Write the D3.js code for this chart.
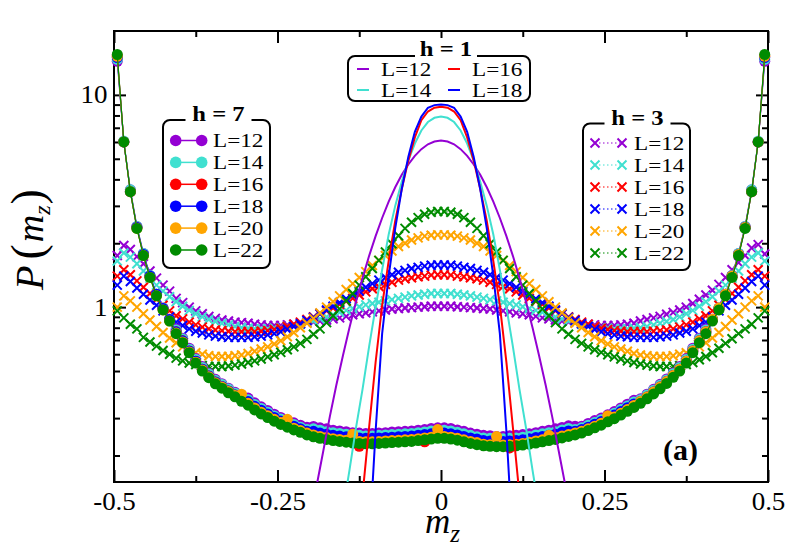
<!DOCTYPE html>
<html><head><meta charset="utf-8">
<script src="https://cdn.jsdelivr.net/npm/d3@7"></script>
<style>
body{margin:0;background:#fff}
svg{display:block}
text{font-family:"Liberation Serif","Times New Roman",serif;fill:#000}
</style>
</head><body>
<svg id="c" width="794" height="548"></svg>
<script>
// ---------------- DATA ----------------
const seriesLabels = ["L=12","L=14","L=16","L=18","L=20","L=22"];
const seriesColors = ["#9400d3","#40e0d0","#ff0000","#0000ff","#ffa500","#008b00"];
const xTickValues = [-0.5,-0.25,0,0.25,0.5];
const xTickLabels = ["-0.5","-0.25","0","0.25","0.5"];
const xMinorTicks = [-0.375,-0.125,0.125,0.375];
const yTickValues = [1,10];
const yTickLabels = ["1","10"];
const yMinorTicks = [0.2,0.3,0.4,0.5,0.6,0.7,0.8,0.9,2,3,4,5,6,7,8,9];

// bin centres of m_z (h=3 and h=7 histograms)
const mz = [-0.495,-0.485,-0.475,-0.465,-0.455,-0.445,-0.435,-0.425,-0.415,-0.405,
-0.395,-0.385,-0.375,-0.365,-0.355,-0.345,-0.335,-0.325,-0.315,-0.305,
-0.295,-0.285,-0.275,-0.265,-0.255,-0.245,-0.235,-0.225,-0.215,-0.205,
-0.195,-0.185,-0.175,-0.165,-0.155,-0.145,-0.135,-0.125,-0.115,-0.105,
-0.095,-0.085,-0.075,-0.065,-0.055,-0.045,-0.035,-0.025,-0.015,-0.005,
0.005,0.015,0.025,0.035,0.045,0.055,0.065,0.075,0.085,0.095,
0.105,0.115,0.125,0.135,0.145,0.155,0.165,0.175,0.185,0.195,
0.205,0.215,0.225,0.235,0.245,0.255,0.265,0.275,0.285,0.295,
0.305,0.315,0.325,0.335,0.345,0.355,0.365,0.375,0.385,0.395,
0.405,0.415,0.425,0.435,0.445,0.455,0.465,0.475,0.485,0.495];

// m_z values of the h=1 curves
const mzH1 = [-0.21,-0.2,-0.19,-0.18,-0.17,-0.16,-0.15,-0.14,-0.13,-0.12,-0.11,
-0.1,-0.09,-0.08,-0.07,-0.06,-0.05,-0.04,-0.03,-0.02,-0.01,0,
0.01,0.02,0.03,0.04,0.05,0.06,0.07,0.08,0.09,0.1,
0.11,0.12,0.13,0.14,0.15,0.16,0.17,0.18,0.19,0.2,0.21];

// h = 1
const h1L12 = [0.063,0.097,0.145,0.21,0.305,0.43,0.59,0.8,1.06,1.37,1.74,2.16,2.63,3.14,3.67,4.2,4.7,5.16,5.55,5.85,6.03,6.1,6.03,5.85,5.55,5.16,4.7,4.2,3.67,3.14,2.63,2.16,1.74,1.37,1.06,0.8,0.59,0.43,0.305,0.21,0.145,0.097,0.063];
const h1L14 = [0.008,0.013,0.02,0.03,0.045,0.07,0.11,0.17,0.27,0.41,0.65,1.0,1.5,2.2,3.0,3.9,4.9,5.9,6.8,7.45,7.8,7.9,7.8,7.45,6.8,5.9,4.9,3.9,3.0,2.2,1.5,1.0,0.65,0.41,0.27,0.17,0.11,0.07,0.045,0.03,0.02,0.013,0.008];
const h1L16 = [0.001,0.001,0.001,0.002,0.004,0.008,0.015,0.03,0.06,0.13,0.27,0.55,1.02,1.65,2.55,3.6,4.9,6.3,7.6,8.35,8.7,8.8,8.7,8.35,7.6,6.3,4.9,3.6,2.55,1.65,1.02,0.55,0.27,0.13,0.06,0.03,0.015,0.008,0.004,0.002,0.001,0.001,0.001];
const h1L18 = [0.001,0.001,0.001,0.001,0.001,0.001,0.001,0.002,0.006,0.02,0.075,0.26,0.75,1.4,2.35,3.6,5.1,6.7,7.9,8.7,8.95,9.0,8.95,8.7,7.9,6.7,5.1,3.6,2.35,1.4,0.75,0.26,0.075,0.02,0.006,0.002,0.001,0.001,0.001,0.001,0.001,0.001,0.001];

// h = 3
const h3L12 = [1.75,1.95,1.87,1.73,1.6,1.48,1.37,1.27,1.19,1.1,
1.05,1.0,0.96,0.93,0.905,0.885,0.87,0.86,0.85,0.845,
0.84,0.83,0.825,0.82,0.82,0.82,0.825,0.83,0.835,0.845,
0.85,0.86,0.87,0.88,0.89,0.905,0.92,0.93,0.94,0.95,
0.96,0.97,0.98,0.985,0.99,0.995,1.0,1.005,1.01,1.01,
1.01,1.01,1.005,1.0,0.995,0.99,0.985,0.98,0.97,0.96,
0.95,0.94,0.93,0.92,0.905,0.89,0.88,0.87,0.86,0.85,
0.845,0.835,0.83,0.825,0.82,0.82,0.82,0.825,0.83,0.84,
0.86,0.875,0.89,0.905,0.925,0.945,0.97,1.0,1.04,1.09,
1.14,1.2,1.28,1.38,1.5,1.62,1.75,1.9,1.97,1.78];
const h3L14 = [1.65,1.8,1.72,1.6,1.48,1.37,1.27,1.19,1.12,1.06,
1.01,0.965,0.93,0.9,0.875,0.855,0.84,0.825,0.81,0.8,
0.795,0.79,0.79,0.79,0.795,0.8,0.81,0.82,0.83,0.845,
0.86,0.88,0.9,0.92,0.945,0.965,0.985,1.005,1.025,1.04,
1.055,1.07,1.085,1.1,1.115,1.13,1.14,1.15,1.16,1.16,
1.16,1.16,1.15,1.14,1.13,1.115,1.1,1.085,1.07,1.055,
1.04,1.025,1.005,0.985,0.965,0.945,0.92,0.9,0.88,0.86,
0.845,0.83,0.82,0.81,0.8,0.795,0.79,0.79,0.79,0.795,
0.8,0.81,0.825,0.84,0.855,0.875,0.9,0.93,0.965,1.01,
1.06,1.12,1.19,1.27,1.37,1.48,1.6,1.72,1.8,1.65];
const h3L16 = [1.4,1.5,1.42,1.33,1.24,1.16,1.09,1.02,0.96,0.91,
0.88,0.85,0.825,0.805,0.79,0.78,0.775,0.77,0.765,0.765,
0.765,0.765,0.77,0.775,0.785,0.795,0.81,0.83,0.85,0.875,
0.9,0.93,0.96,0.99,1.03,1.065,1.1,1.14,1.18,1.22,
1.25,1.28,1.31,1.34,1.36,1.375,1.39,1.4,1.415,1.42,
1.42,1.415,1.4,1.39,1.375,1.36,1.34,1.31,1.28,1.25,
1.22,1.18,1.14,1.1,1.065,1.03,0.99,0.96,0.93,0.9,
0.875,0.85,0.83,0.81,0.795,0.785,0.775,0.77,0.765,0.765,
0.765,0.765,0.77,0.775,0.78,0.79,0.805,0.825,0.85,0.88,
0.91,0.96,1.02,1.09,1.16,1.24,1.33,1.42,1.5,1.4];
const h3L18 = [1.27,1.4,1.32,1.23,1.15,1.08,1.02,0.96,0.9,0.85,
0.82,0.79,0.77,0.755,0.74,0.73,0.725,0.72,0.72,0.72,
0.72,0.725,0.73,0.74,0.75,0.765,0.785,0.81,0.835,0.865,
0.895,0.93,0.97,1.01,1.05,1.095,1.14,1.19,1.24,1.29,
1.34,1.38,1.42,1.46,1.49,1.52,1.54,1.56,1.575,1.58,
1.58,1.575,1.56,1.54,1.52,1.49,1.46,1.42,1.38,1.34,
1.29,1.24,1.19,1.14,1.095,1.05,1.01,0.97,0.93,0.895,
0.865,0.835,0.81,0.785,0.765,0.75,0.74,0.73,0.725,0.72,
0.72,0.72,0.72,0.725,0.73,0.74,0.755,0.77,0.79,0.82,
0.85,0.9,0.96,1.02,1.08,1.15,1.23,1.32,1.4,1.27];
const h3L20 = [1.0,1.13,1.07,1.0,0.93,0.87,0.81,0.76,0.715,0.68,
0.65,0.625,0.61,0.6,0.59,0.585,0.585,0.585,0.59,0.595,
0.605,0.62,0.635,0.65,0.67,0.695,0.725,0.76,0.8,0.84,
0.885,0.94,1.0,1.06,1.13,1.21,1.29,1.38,1.47,1.57,
1.66,1.75,1.84,1.93,2.0,2.07,2.12,2.16,2.18,2.19,
2.19,2.18,2.16,2.12,2.07,2.0,1.93,1.84,1.75,1.66,
1.57,1.47,1.38,1.29,1.21,1.13,1.06,1.0,0.94,0.885,
0.84,0.8,0.76,0.725,0.695,0.67,0.65,0.635,0.62,0.605,
0.595,0.59,0.585,0.585,0.585,0.59,0.6,0.61,0.625,0.65,
0.68,0.715,0.76,0.81,0.87,0.93,1.0,1.07,1.13,1.0];
const h3L22 = [0.96,0.89,0.83,0.79,0.72,0.685,0.655,0.625,0.6,0.575,
0.558,0.545,0.537,0.53,0.526,0.525,0.525,0.528,0.533,0.54,
0.548,0.558,0.57,0.583,0.597,0.612,0.63,0.65,0.675,0.705,
0.745,0.79,0.845,0.91,0.98,1.07,1.16,1.27,1.39,1.52,
1.66,1.82,1.99,2.17,2.35,2.51,2.64,2.74,2.8,2.82,
2.82,2.8,2.74,2.64,2.51,2.35,2.17,1.99,1.82,1.66,
1.52,1.39,1.27,1.16,1.07,0.98,0.91,0.845,0.79,0.745,
0.705,0.675,0.65,0.63,0.612,0.597,0.583,0.57,0.558,0.548,
0.54,0.533,0.528,0.525,0.525,0.526,0.53,0.537,0.548,0.565,
0.585,0.61,0.64,0.675,0.71,0.75,0.79,0.83,0.89,0.96];

// h = 7
const h7L12 = [14.4,6.0,3.57,2.4,1.79,1.41,1.15,0.99,0.877,0.788,
0.714,0.641,0.572,0.525,0.488,0.457,0.436,0.415,0.397,0.378,
0.373,0.354,0.339,0.326,0.313,0.302,0.294,0.285,0.278,0.272,
0.274,0.27,0.267,0.263,0.261,0.259,0.256,0.255,0.254,0.254,
0.255,0.256,0.258,0.259,0.26,0.261,0.263,0.265,0.268,0.27,
0.27,0.268,0.264,0.26,0.255,0.252,0.249,0.248,0.246,0.246,
0.248,0.249,0.251,0.253,0.256,0.26,0.263,0.267,0.271,0.276,
0.275,0.275,0.283,0.292,0.3,0.311,0.322,0.335,0.349,0.364,
0.37,0.389,0.41,0.433,0.459,0.49,0.525,0.572,0.641,0.714,
0.788,0.877,0.99,1.15,1.41,1.79,2.4,3.57,6.0,14.4];
const h7L14 = [14.7,6.06,3.57,2.4,1.79,1.41,1.15,0.99,0.877,0.78,
0.707,0.634,0.567,0.52,0.484,0.452,0.432,0.411,0.393,0.374,
0.366,0.348,0.333,0.32,0.307,0.297,0.288,0.28,0.272,0.265,
0.267,0.263,0.259,0.256,0.254,0.252,0.25,0.249,0.247,0.247,
0.249,0.25,0.251,0.252,0.253,0.254,0.256,0.258,0.261,0.263,
0.263,0.261,0.257,0.253,0.249,0.245,0.242,0.241,0.24,0.24,
0.241,0.242,0.244,0.246,0.25,0.253,0.256,0.259,0.264,0.268,
0.265,0.27,0.278,0.286,0.295,0.305,0.316,0.329,0.342,0.357,
0.366,0.385,0.406,0.428,0.454,0.486,0.52,0.567,0.634,0.707,
0.78,0.877,0.99,1.15,1.41,1.79,2.4,3.57,6.06,14.7];
const h7L16 = [15.3,6.0,3.5,2.37,1.76,1.39,1.14,0.98,0.869,0.765,
0.694,0.622,0.556,0.51,0.474,0.444,0.423,0.403,0.386,0.367,
0.355,0.338,0.323,0.311,0.299,0.288,0.28,0.272,0.265,0.258,
0.255,0.251,0.248,0.244,0.242,0.24,0.238,0.221,0.236,0.236,
0.237,0.238,0.239,0.24,0.241,0.242,0.244,0.232,0.249,0.251,
0.251,0.249,0.245,0.241,0.237,0.234,0.231,0.23,0.229,0.229,
0.217,0.231,0.233,0.235,0.238,0.241,0.244,0.248,0.252,0.256,
0.258,0.263,0.27,0.278,0.286,0.297,0.307,0.319,0.333,0.347,
0.359,0.377,0.398,0.42,0.446,0.476,0.51,0.556,0.622,0.694,
0.765,0.869,0.98,1.14,1.39,1.76,2.37,3.5,6.0,15.3];
const h7L18 = [15.0,6.0,3.5,2.37,1.77,1.4,1.15,0.985,0.875,0.765,
0.694,0.622,0.556,0.51,0.474,0.444,0.423,0.403,0.386,0.367,
0.359,0.341,0.327,0.314,0.302,0.291,0.283,0.275,0.267,0.26,
0.26,0.255,0.252,0.249,0.247,0.245,0.243,0.242,0.241,0.241,
0.242,0.243,0.244,0.245,0.246,0.247,0.249,0.251,0.253,0.255,
0.255,0.253,0.25,0.246,0.242,0.239,0.235,0.234,0.233,0.233,
0.234,0.235,0.237,0.24,0.243,0.246,0.249,0.252,0.257,0.261,
0.26,0.265,0.272,0.281,0.289,0.3,0.31,0.322,0.336,0.35,
0.359,0.377,0.398,0.42,0.446,0.476,0.51,0.556,0.622,0.694,
0.765,0.875,0.985,1.15,1.4,1.77,2.37,3.5,6.0,15.0];
const h7L20 = [15.2,6.0,3.5,2.35,1.75,1.38,1.13,0.97,0.86,0.755,
0.685,0.615,0.55,0.505,0.47,0.44,0.42,0.4,0.383,0.389,
0.352,0.335,0.32,0.308,0.296,0.286,0.296,0.269,0.262,0.255,
0.25,0.246,0.243,0.24,0.238,0.236,0.252,0.233,0.232,0.232,
0.233,0.234,0.235,0.236,0.237,0.238,0.24,0.242,0.244,0.265,
0.246,0.244,0.241,0.237,0.233,0.23,0.226,0.225,0.246,0.224,
0.225,0.226,0.228,0.231,0.234,0.237,0.249,0.243,0.247,0.251,
0.255,0.26,0.267,0.275,0.284,0.308,0.304,0.316,0.329,0.344,
0.359,0.377,0.398,0.42,0.446,0.476,0.51,0.556,0.622,0.694,
0.765,0.877,0.99,1.15,1.4,1.77,2.37,3.5,6.0,15.2];
const h7L22 = [15.5,6.0,3.5,2.35,1.75,1.38,1.13,0.97,0.86,0.75,
0.68,0.61,0.545,0.5,0.465,0.435,0.415,0.395,0.378,0.36,
0.345,0.328,0.314,0.302,0.29,0.28,0.272,0.264,0.257,0.25,
0.245,0.241,0.238,0.235,0.233,0.231,0.229,0.228,0.227,0.227,
0.228,0.229,0.23,0.231,0.232,0.233,0.235,0.237,0.239,0.241,
0.241,0.239,0.236,0.232,0.228,0.225,0.222,0.221,0.22,0.22,
0.221,0.222,0.224,0.226,0.229,0.232,0.235,0.238,0.242,0.246,
0.25,0.255,0.262,0.27,0.278,0.288,0.298,0.31,0.323,0.337,
0.352,0.37,0.39,0.412,0.437,0.467,0.5,0.545,0.61,0.68,
0.75,0.86,0.97,1.13,1.38,1.75,2.35,3.5,6.0,15.5];

const h1Series = [h1L12,h1L14,h1L16,h1L18];
const h3Series = [h3L12,h3L14,h3L16,h3L18,h3L20,h3L22];
const h7Series = [h7L12,h7L14,h7L16,h7L18,h7L20,h7L22];

// ---------------- LAYOUT ----------------
const PL=114, PR=768, PT=31, PB=482;
const svg = d3.select("#c");
svg.append("rect").attr("width",794).attr("height",548).attr("fill","#fff");

const x = d3.scaleLinear().domain([-0.5,0.5]).range([PL,PR]);
const y = d3.scaleLog().domain([0.15,20]).range([PB,PT]);

svg.append("defs").append("clipPath").attr("id","clip")
  .append("rect").attr("x",PL).attr("y",PT).attr("width",PR-PL).attr("height",PB-PT);

// frame
svg.append("rect").attr("x",PL).attr("y",PT).attr("width",PR-PL).attr("height",PB-PT)
  .attr("fill","none").attr("stroke","#000").attr("stroke-width",2);

function styleAxis(g){
  g.select(".domain").remove();
  g.selectAll(".tick line").attr("stroke","#000").attr("stroke-width",2);
  g.selectAll(".tick text").attr("font-family","Liberation Serif, serif")
    .attr("font-size",25).attr("fill","#000").attr("transform","scale(1.08,1)");
}
svg.append("g").attr("transform",`translate(0,${PB})`)
  .call(d3.axisBottom(x).tickValues(xTickValues).tickSizeInner(-12).tickSizeOuter(0).tickPadding(10)
    .tickFormat((d,i)=>xTickLabels[i])).call(styleAxis);
svg.append("g").attr("transform",`translate(0,${PB})`)
  .call(d3.axisBottom(x).tickValues(xMinorTicks).tickSizeInner(-6).tickSizeOuter(0).tickFormat("")).call(styleAxis);
svg.append("g").attr("transform",`translate(0,${PT})`)
  .call(d3.axisTop(x).tickValues(xTickValues).tickSizeInner(-12).tickSizeOuter(0).tickFormat("")).call(styleAxis);
svg.append("g").attr("transform",`translate(0,${PT})`)
  .call(d3.axisTop(x).tickValues(xMinorTicks).tickSizeInner(-6).tickSizeOuter(0).tickFormat("")).call(styleAxis);
svg.append("g").attr("transform",`translate(${PL},0)`)
  .call(d3.axisLeft(y).tickValues(yTickValues).tickSizeInner(-12).tickSizeOuter(0).tickPadding(6)
    .tickFormat((d,i)=>yTickLabels[i])).call(styleAxis);
svg.append("g").attr("transform",`translate(${PL},0)`)
  .call(d3.axisLeft(y).tickValues(yMinorTicks).tickSizeInner(-6).tickSizeOuter(0).tickFormat("")).call(styleAxis);
svg.append("g").attr("transform",`translate(${PR},0)`)
  .call(d3.axisRight(y).tickValues(yTickValues).tickSizeInner(-12).tickSizeOuter(0).tickFormat("")).call(styleAxis);
svg.append("g").attr("transform",`translate(${PR},0)`)
  .call(d3.axisRight(y).tickValues(yMinorTicks).tickSizeInner(-6).tickSizeOuter(0).tickFormat("")).call(styleAxis);

const crossPath = "M-4.5,-4.5L4.5,4.5M-4.5,4.5L4.5,-4.5";

// h = 3 : crosses with dotted lines
const line = d3.line().x(d=>x(d[0])).y(d=>y(d[1]));
h3Series.forEach((vals,i)=>{
  const pts = mz.map((m,k)=>[m,vals[k]]);
  const g = svg.append("g");
  g.append("path").attr("d",line(pts)).attr("fill","none").attr("stroke",seriesColors[i])
    .attr("stroke-width",1).attr("stroke-dasharray","1.5,2.5");
  g.selectAll("path.mk").data(pts).enter().append("path").attr("class","mk")
    .attr("transform",d=>`translate(${x(d[0])},${y(d[1])})`).attr("d",crossPath)
    .attr("stroke",seriesColors[i]).attr("stroke-width",2).attr("fill","none");
});

// h = 7 : circles with thin solid lines
h7Series.forEach((vals,i)=>{
  const pts = mz.map((m,k)=>[m,vals[k]]);
  const g = svg.append("g");
  g.append("path").attr("d",line(pts)).attr("fill","none").attr("stroke",seriesColors[i]).attr("stroke-width",1.2);
  g.selectAll("circle").data(pts).enter().append("circle")
    .attr("cx",d=>x(d[0])).attr("cy",d=>y(d[1])).attr("r",5.5).attr("fill",seriesColors[i]);
});

// h = 1 : solid lines
h1Series.forEach((vals,i)=>{
  const pts = mzH1.map((m,k)=>[m,vals[k]]);
  svg.append("path").attr("clip-path","url(#clip)").attr("d",line(pts)).attr("fill","none")
    .attr("stroke",seriesColors[i]).attr("stroke-width",2);
});

// ---------------- LEGENDS ----------------
function legendBox(x0,y0,w,h,title,tx,ty,tw){
  svg.append("rect").attr("x",x0).attr("y",y0).attr("width",w).attr("height",h)
    .attr("rx",7).attr("ry",7).attr("fill","#fff").attr("stroke","#000").attr("stroke-width",2);
  svg.append("rect").attr("x",tx-tw/2).attr("y",ty-18).attr("width",tw).attr("height",22).attr("fill","#fff");
  svg.append("text").attr("transform",`translate(${tx},${ty}) scale(1.12,1)`).attr("text-anchor","middle")
    .attr("font-weight","bold").attr("font-size",22).text(title);
}
function legendText(tx,ty,s){
  svg.append("text").attr("transform",`translate(${tx},${ty}) scale(1.22,1)`).attr("font-size",19).text(s);
}

// h = 7
legendBox(163,120,107,148,"h = 7",218.5,121,66);
seriesLabels.forEach((s,i)=>{
  const yy = 140.5 + i*21.9;
  svg.append("line").attr("x1",175.7).attr("x2",201.7).attr("y1",yy).attr("y2",yy)
    .attr("stroke",seriesColors[i]).attr("stroke-width",1.5);
  [175.7,201.7].forEach(cx=>svg.append("circle").attr("cx",cx).attr("cy",yy).attr("r",5.8).attr("fill",seriesColors[i]));
  legendText(213,yy+6.5,s);
});

// h = 3
legendBox(583,123.5,107,146.5,"h = 3",637.5,125,66);
seriesLabels.forEach((s,i)=>{
  const yy = 143 + i*22;
  svg.append("line").attr("x1",595).attr("x2",622).attr("y1",yy).attr("y2",yy)
    .attr("stroke",seriesColors[i]).attr("stroke-width",1).attr("stroke-dasharray","1.5,2.5");
  [595,622].forEach(cx=>svg.append("path").attr("transform",`translate(${cx},${yy})`).attr("d",crossPath)
    .attr("stroke",seriesColors[i]).attr("stroke-width",2).attr("fill","none"));
  legendText(634,yy+6.5,s);
});

// h = 1
legendBox(348,56,182,45,"h = 1",446,56,62);
const h1Pos = [[357,69],[357,90],[448,69],[448,90]];
h1Series.forEach((v,i)=>{
  const [lx,ly] = h1Pos[i];
  svg.append("line").attr("x1",lx).attr("x2",lx+12).attr("y1",ly).attr("y2",ly)
    .attr("stroke",seriesColors[i]).attr("stroke-width",2);
  legendText(lx+24,ly+6.5,seriesLabels[i]);
});

// ---------------- LABELS ----------------
svg.append("text").attr("x",663).attr("y",460).attr("font-weight","bold").attr("font-size",30).text("(a)");

const xl = svg.append("text").attr("x",425).attr("y",533);
xl.append("tspan").attr("font-style","italic").attr("font-size",35).text("m");
xl.append("tspan").attr("font-style","italic").attr("font-size",25).attr("dy",9).text("z");

const yl = svg.append("text").attr("transform","translate(43,290) rotate(-90)");
yl.append("tspan").attr("font-style","italic").attr("font-size",40).text("P");
yl.append("tspan").attr("font-size",46).attr("dx",6).text("(");
yl.append("tspan").attr("font-style","italic").attr("font-size",38).attr("dx",2).text("m");
yl.append("tspan").attr("font-style","italic").attr("font-size",24).attr("dy",7).text("z");
yl.append("tspan").attr("font-size",46).attr("dy",-7).attr("dx",1).text(")");
</script>
</body></html>
